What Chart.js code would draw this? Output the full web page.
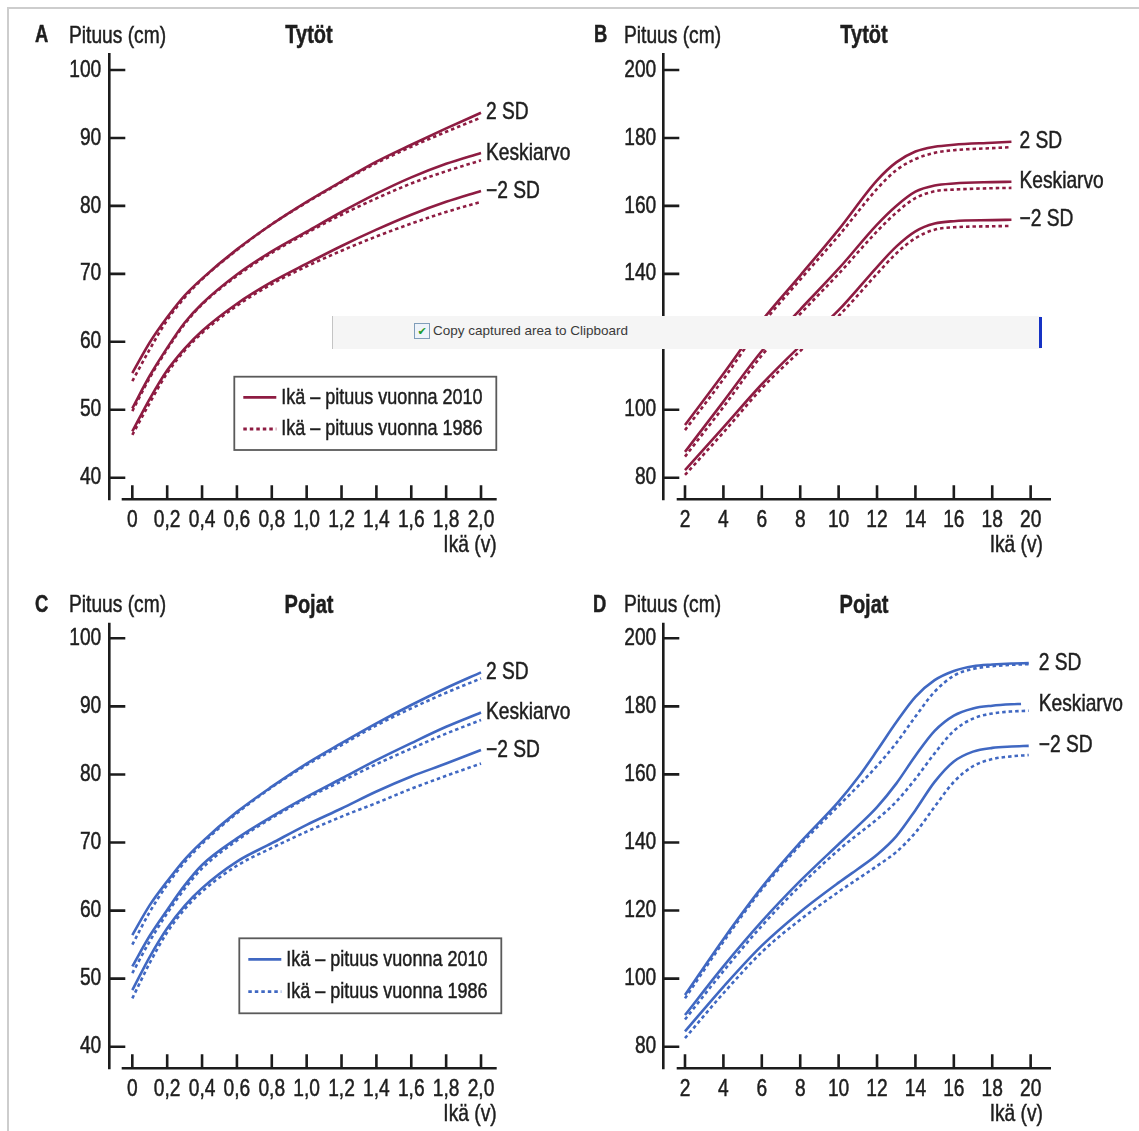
<!DOCTYPE html>
<html lang="fi">
<head>
<meta charset="utf-8">
<title>Pituus – ikä, Tytöt ja Pojat</title>
<script src="https://cdn.jsdelivr.net/npm/chart.js@4.4.1/dist/chart.umd.min.js"></script>
<style>
  html, body { margin: 0; padding: 0; background: #fff; overflow: hidden; }
  #page { position: relative; width: 1139px; height: 1131px; overflow: hidden; }
  canvas.panel { position: absolute; }
  .frame { position: absolute; background: #cdcdcd; }
  #snapbar {
    position: absolute; left: 332px; top: 316px; width: 708px; height: 33px;
    background: #f5f5f5; border-left: 1px solid #c4c4c4; z-index: 5;
    font: 13.5px "Liberation Sans", "DejaVu Sans", sans-serif; color: #3a3a3a;
  }
  #snapbar .box {
    position: absolute; left: 81px; top: 7px; width: 14px; height: 14px;
    border: 1px solid #7f9db9; background: #eef3fa; color: #1f9b2c;
    font-size: 11px; line-height: 14px; text-align: center;
  }
  #snapbar .txt { position: absolute; left: 100px; top: 0; line-height: 30px; white-space: nowrap; }
  #snapbar .caret { position: absolute; left: 706px; top: 1px; width: 3px; height: 31px; background: #1632c4; }
</style>
</head>
<body>
<div id="page">
  <div class="frame" style="left:7px; top:7px; width:1132px; height:2px;"></div>
  <div class="frame" style="left:7px; top:7px; width:2px; height:1124px;"></div>
  <canvas id="chartA" class="panel" width="570" height="565" style="left:0; top:0;"></canvas>
  <canvas id="chartB" class="panel" width="569" height="565" style="left:570px; top:0;"></canvas>
  <canvas id="chartC" class="panel" width="570" height="565" style="left:0; top:569px;"></canvas>
  <canvas id="chartD" class="panel" width="569" height="565" style="left:570px; top:569px;"></canvas>
  <div id="snapbar"><span class="box">✔</span><span class="txt">Copy captured area to Clipboard</span><span class="caret"></span></div>
</div>
<script>
const FONT = '"Liberation Sans", Arial, sans-serif';
const NARROW = 0.8;             // Liberation Sans squeezed to a condensed face
const TEXT_COLOR = "#1e1e1e";
const AXIS_COLOR = "#1c1c1c";
const GIRL_COLOR = "#8e1c42";
const BOY_COLOR  = "#4068c2";
const DOTS = [3.5, 3];

const CURVE_LABELS  = ["2 SD", "Keskiarvo", "−2 SD"];
const LEGEND_LABELS = ["Ikä – pituus vuonna 2010", "Ikä – pituus vuonna 1986"];

// 0–2 v
const infantAges   = [0, 0.1, 0.2, 0.3, 0.4, 0.6, 0.8, 1.0, 1.2, 1.4, 1.6, 1.8, 2.0];
const infantTicks  = [0, 0.2, 0.4, 0.6, 0.8, 1.0, 1.2, 1.4, 1.6, 1.8, 2.0];
const infantYTicks = [40, 50, 60, 70, 80, 90, 100];

const girlsInfantPlus2010  = [55.4, 59.9, 63.6, 66.8, 69.3, 73.6, 77.3, 80.6, 83.6, 86.5, 89.0, 91.4, 93.7];
const girlsInfantMean2010  = [50.2, 55.0, 59.1, 62.8, 65.6, 69.9, 73.3, 76.2, 79.1, 81.8, 84.2, 86.2, 87.8];
const girlsInfantMinus2010 = [46.8, 51.6, 55.8, 59.0, 61.6, 65.6, 68.8, 71.5, 74.1, 76.5, 78.7, 80.6, 82.2];
const girlsInfantPlus1986  = [54.2, 58.9, 63.2, 66.5, 69.2, 73.5, 77.3, 80.5, 83.5, 86.3, 88.7, 90.9, 93.0];
const girlsInfantMean1986  = [49.8, 54.7, 58.9, 62.6, 65.5, 69.7, 73.1, 76.0, 78.7, 81.1, 83.3, 85.1, 86.7];
const girlsInfantMinus1986 = [46.3, 51.0, 55.4, 58.7, 61.3, 65.3, 68.5, 71.1, 73.4, 75.5, 77.4, 79.1, 80.6];

const boysInfantPlus2010  = [56.4, 60.8, 64.3, 67.5, 70.1, 74.5, 78.2, 81.6, 84.6, 87.5, 90.2, 92.7, 95.0];
const boysInfantMean2010  = [51.8, 56.3, 60.1, 63.7, 66.7, 70.6, 73.8, 76.7, 79.4, 82.1, 84.6, 87.0, 89.1];
const boysInfantMinus2010 = [48.3, 53.2, 57.4, 60.7, 63.3, 67.2, 69.9, 72.6, 75.0, 77.5, 79.7, 81.6, 83.6];
const boysInfantPlus1986  = [55.0, 59.8, 63.8, 67.1, 69.8, 74.3, 78.1, 81.4, 84.3, 87.2, 89.7, 92.0, 94.1];
const boysInfantMean1986  = [50.8, 55.5, 59.6, 63.2, 66.2, 70.3, 73.6, 76.5, 79.0, 81.5, 83.8, 86.0, 88.0];
const boysInfantMinus1986 = [47.1, 52.3, 56.8, 60.2, 62.8, 66.6, 69.2, 71.6, 73.8, 75.8, 77.9, 79.8, 81.6];

// 2–20 v
const childTicks  = [2, 4, 6, 8, 10, 12, 14, 16, 18, 20];
const childYTicks = [80, 100, 120, 140, 160, 180, 200];

const girlsChildAges = [2, 4, 6, 8, 10, 12, 13, 14, 15, 16, 18, 19];
const girlsChildPlus2010  = [95.5, 110.6, 126.2, 139.5, 153.0, 167.5, 172.8, 176.0, 177.4, 178.0, 178.6, 178.9];
const girlsChildMean2010  = [87.6, 102.4, 117.3, 129.5, 141.5, 154.5, 160.0, 164.2, 166.0, 166.6, 167.0, 167.1];
const girlsChildMinus2010 = [82.2, 94.8, 107.5, 118.8, 129.3, 142.0, 148.0, 152.5, 154.8, 155.5, 155.8, 155.9];
const girlsChildPlus1986  = [94.0, 109.0, 125.0, 138.3, 151.2, 165.0, 170.5, 173.8, 175.6, 176.4, 177.0, 177.3];
const girlsChildMean1986  = [86.2, 100.8, 116.0, 128.2, 140.0, 152.5, 158.0, 162.3, 164.3, 164.8, 165.2, 165.3];
const girlsChildMinus1986 = [80.8, 93.3, 106.3, 117.3, 127.6, 140.0, 146.0, 150.5, 153.0, 153.7, 154.0, 154.1];

const boysChildAges     = [2, 4, 6, 8, 10, 11, 12, 13, 14, 15, 16, 17, 18, 19, 19.9];
const boysChildMeanAges = [2, 4, 6, 8, 10, 11, 12, 13, 14, 15, 16, 17, 18, 19, 19.5];
const boysChildPlus2010  = [95.2, 111.6, 126.8, 140.0, 152.0, 159.0, 167.0, 175.3, 182.8, 187.7, 190.4, 191.8, 192.3, 192.6, 192.7];
const boysChildMean2010  = [89.3, 103.6, 116.8, 128.7, 139.5, 144.8, 150.4, 157.3, 165.5, 172.8, 177.3, 179.4, 180.2, 180.6, 180.7];
const boysChildMinus2010 = [84.5, 97.6, 109.7, 119.6, 128.2, 132.2, 136.4, 141.8, 149.5, 157.8, 163.8, 166.7, 167.8, 168.2, 168.4];
const boysChildPlus1986  = [94.2, 110.8, 126.2, 139.3, 150.8, 156.5, 162.5, 169.2, 177.0, 184.3, 189.0, 191.0, 191.8, 192.2, 192.4];
const boysChildMean1986  = [88.0, 102.2, 115.5, 127.3, 137.8, 142.4, 146.8, 152.0, 158.7, 166.2, 172.8, 176.4, 177.9, 178.5, 178.7];
const boysChildMinus1986 = [82.5, 95.7, 107.8, 117.3, 125.5, 129.3, 133.1, 137.2, 142.9, 150.5, 157.8, 162.4, 164.5, 165.3, 165.7];

const zip = (ages, values) => values.map((v, i) => ({ x: ages[i], y: v }));
const decimalComma = v => v === 0 ? "0" : v.toFixed(1).replace(".", ",");
const plain = v => String(v);

// tick label formatters per canvas, kept outside chart options so they are not treated as scriptable
const X_FORMAT = { chartA: decimalComma, chartB: plain, chartC: decimalComma, chartD: plain };

function curveSet(color, ages, curves, meanAges) {
  const sets = [];
  curves.now.forEach((vals, i) => {
    sets.push({
      label: CURVE_LABELS[i] + " 2010", endLabel: CURVE_LABELS[i],
      data: zip(i === 1 && meanAges ? meanAges : ages, vals),
      borderColor: color, borderWidth: 2.6
    });
  });
  curves.old.forEach((vals, i) => {
    sets.push({
      label: CURVE_LABELS[i] + " 1986",
      data: zip(ages, vals),
      borderColor: color, borderWidth: 2.6, borderDash: DOTS
    });
  });
  return sets;
}

// condensed text: measure, place by alignment, then squeeze horizontally
function narrowText(ctx, text, x, y, align, font) {
  ctx.font = font;
  const w = ctx.measureText(text).width * NARROW;
  const left = align === "right" ? x - w : align === "center" ? x - w / 2 : x;
  ctx.save();
  ctx.translate(left, y);
  ctx.scale(NARROW, 1);
  ctx.textAlign = "left";
  ctx.textBaseline = "middle";
  ctx.fillText(text, 0, 0);
  ctx.strokeStyle = ctx.fillStyle;
  ctx.lineWidth = 0.5;
  ctx.strokeText(text, 0, 0);
  ctx.restore();
}

// axes with inward ticks, tick labels, panel titles, curve end labels and boxed legend
const decor = {
  id: "decor",
  afterDraw(chart, args, o) {
    const { ctx, chartArea: a, scales: { x, y } } = chart;
    const fmt = X_FORMAT[chart.canvas.id];
    const reg = "24px " + FONT;
    ctx.save();
    ctx.strokeStyle = AXIS_COLOR;
    ctx.lineWidth = 2.6;
    ctx.beginPath();
    ctx.moveTo(a.left, a.top);
    ctx.lineTo(a.left, a.bottom + 1);
    y.ticks.forEach(t => {
      const py = y.getPixelForValue(t.value);
      ctx.moveTo(a.left, py);
      ctx.lineTo(a.left + 16, py);
    });
    ctx.moveTo(a.left + o.xAxisGap, a.bottom);
    ctx.lineTo(a.right, a.bottom);
    x.ticks.forEach(t => {
      const px = x.getPixelForValue(t.value);
      ctx.moveTo(px, a.bottom);
      ctx.lineTo(px, a.bottom - 14);
    });
    ctx.stroke();

    ctx.fillStyle = TEXT_COLOR;
    y.ticks.forEach(t => narrowText(ctx, String(t.value), a.left - o.yPad, y.getPixelForValue(t.value), "right", reg));
    x.ticks.forEach(t => narrowText(ctx, fmt(t.value), x.getPixelForValue(t.value), a.bottom + 21, "center", reg));

    const ty = a.top - 17;
    narrowText(ctx, o.letter, o.letterX, ty, "left", "bold 23px " + FONT);
    narrowText(ctx, "Pituus (cm)", o.pituusX, ty, "left", reg);
    narrowText(ctx, o.title, o.titleX, ty, "center", "bold 25px " + FONT);
    narrowText(ctx, "Ikä (v)", a.right - o.xTitleShift, a.bottom + 46, "right", reg);

    const lx = x.getPixelForValue(o.labelAge) + o.labelGap;
    chart.data.datasets.forEach(ds => {
      if (!ds.endLabel) return;
      const last = ds.data[ds.data.length - 1];
      narrowText(ctx, ds.endLabel, lx, y.getPixelForValue(last.y), "left", reg);
    });

    if (o.legend) {
      const L = o.legend;
      ctx.strokeStyle = "#5a5a5a";
      ctx.lineWidth = 1.8;
      ctx.strokeRect(L.x, L.y, 262, L.h);
      LEGEND_LABELS.forEach((txt, i) => {
        const ry = L.y + L.rows[i];
        ctx.strokeStyle = o.color;
        ctx.lineWidth = 2.8;
        ctx.setLineDash(i === 0 ? [] : DOTS);
        ctx.beginPath();
        ctx.moveTo(L.x + 9, ry);
        ctx.lineTo(L.x + 42, ry);
        ctx.stroke();
        ctx.setLineDash([]);
        narrowText(ctx, txt, L.x + 47, ry, "left", "22.5px " + FONT);
      });
    }
    ctx.restore();
  }
};

function makePanel(id, p) {
  return new Chart(document.getElementById(id), {
    type: "line",
    data: { datasets: p.datasets },
    options: {
      responsive: false,
      animation: false,
      events: [],
      layout: { padding: { left: 0, top: p.top, right: p.right, bottom: 0 } },
      elements: { point: { radius: 0 }, line: { cubicInterpolationMode: "monotone" } },
      plugins: { legend: { display: false }, tooltip: { enabled: false }, decor: p.decor },
      scales: {
        x: {
          type: "linear", min: p.xMin, max: p.xMax,
          grid: { display: false, drawTicks: false }, border: { display: false },
          afterBuildTicks: s => { s.ticks = p.xTicks.map(v => ({ value: v })); },
          afterFit: s => { s.height = 65.7; },
          ticks: { display: false }
        },
        y: {
          type: "linear", min: p.yMin, max: p.yMax,
          grid: { display: false, drawTicks: false }, border: { display: false },
          afterBuildTicks: s => { s.ticks = p.yTicks.map(v => ({ value: v })); },
          afterFit: s => { s.width = p.yWidth; },
          ticks: { display: false }
        }
      }
    },
    plugins: [decor]
  });
}

makePanel("chartA", {
  datasets: curveSet(GIRL_COLOR, infantAges, {
    now: [girlsInfantPlus2010, girlsInfantMean2010, girlsInfantMinus2010],
    old: [girlsInfantPlus1986, girlsInfantMean1986, girlsInfantMinus1986]
  }),
  top: 53, right: 73.3, yWidth: 109.3,
  xMin: -0.132, xMax: 2.09, yMin: 36.82, yMax: 102.5,
  xTicks: infantTicks, yTicks: infantYTicks,
  decor: {
    letter: "A", title: "Tytöt", letterX: 35, pituusX: 69, titleX: 309, yPad: 8,
    xAxisGap: 12.4, xTitleShift: 0, labelAge: 2.0, labelGap: 5, color: GIRL_COLOR,
    legend: { x: 234.3, y: 376.7, h: 73.3, rows: [20.6, 52.3] }
  }
});

makePanel("chartB", {
  datasets: curveSet(GIRL_COLOR, girlsChildAges, {
    now: [girlsChildPlus2010, girlsChildMean2010, girlsChildMinus2010],
    old: [girlsChildPlus1986, girlsChildMean1986, girlsChildMinus1986]
  }),
  top: 53, right: 88, yWidth: 93.3,
  xMin: 0.87, xMax: 21.06, yMin: 73.64, yMax: 205,
  xTicks: childTicks, yTicks: childYTicks,
  decor: {
    letter: "B", title: "Tytöt", letterX: 24, pituusX: 54, titleX: 294, yPad: 7,
    xAxisGap: 13.4, xTitleShift: 8, labelAge: 19, labelGap: 8, color: GIRL_COLOR
  }
});

makePanel("chartC", {
  datasets: curveSet(BOY_COLOR, infantAges, {
    now: [boysInfantPlus2010, boysInfantMean2010, boysInfantMinus2010],
    old: [boysInfantPlus1986, boysInfantMean1986, boysInfantMinus1986]
  }),
  top: 53.7, right: 73.3, yWidth: 109.3,
  xMin: -0.132, xMax: 2.09, yMin: 36.83, yMax: 102.29,
  xTicks: infantTicks, yTicks: infantYTicks,
  decor: {
    letter: "C", title: "Pojat", letterX: 35, pituusX: 69, titleX: 309, yPad: 8,
    xAxisGap: 12.4, xTitleShift: 0, labelAge: 2.0, labelGap: 5, color: BOY_COLOR,
    legend: { x: 239.3, y: 369.3, h: 75, rows: [21, 53.4] }
  }
});

makePanel("chartD", {
  datasets: curveSet(BOY_COLOR, boysChildAges, {
    now: [boysChildPlus2010, boysChildMean2010, boysChildMinus2010],
    old: [boysChildPlus1986, boysChildMean1986, boysChildMinus1986]
  }, boysChildMeanAges),
  top: 53.7, right: 88, yWidth: 93.3,
  xMin: 0.87, xMax: 21.06, yMin: 73.65, yMax: 204.58,
  xTicks: childTicks, yTicks: childYTicks,
  decor: {
    letter: "D", title: "Pojat", letterX: 23, pituusX: 54, titleX: 294, yPad: 7,
    xAxisGap: 13.4, xTitleShift: 8, labelAge: 19.9, labelGap: 10, color: BOY_COLOR
  }
});
</script>
</body>
</html>
